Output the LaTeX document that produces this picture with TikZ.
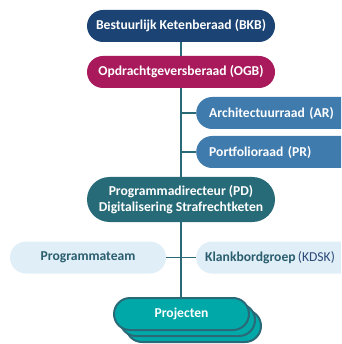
\documentclass[tikz,border=0pt]{standalone}
\usepackage{fontspec}
\setmainfont{Carlito}
\definecolor{bkb}{HTML}{1B4373}
\definecolor{ogb}{HTML}{A81A5C}
\definecolor{arpr}{HTML}{3F7BAD}
\definecolor{pd}{HTML}{286B78}
\definecolor{light}{HTML}{DFEEF7}
\definecolor{ln}{HTML}{2A6A78}
\definecolor{proj}{HTML}{00A8A8}
\definecolor{txtd}{HTML}{2A5D6E}
\definecolor{txtn}{HTML}{2B4A78}
\begin{document}
\begin{tikzpicture}[x=1pt,y=-1pt,
  pill/.style={minimum height=32pt, rounded corners=16pt, inner sep=0pt, font=\bfseries\fontsize{13.6}{16}\selectfont, text=white},
  main/.style={pill, minimum width=188pt},
  side/.style={pill, text width=148pt, inner xsep=13pt, align=left, fill=arpr},
  lite/.style={pill, fill=light, text=txtd},
  conn/.style={draw=ln, line width=1.6pt},
  projbox/.style={pill, minimum width=135pt, fill=proj, draw=ln, line width=2pt}]
\useasboundingbox (0,0) rectangle (341,344);
\clip (0,0) rectangle (341,344);
% nodes
\node[main, fill=bkb] (bkb) at (181,26) {Bestuurlijk Ketenberaad (BKB)};
\node[main, fill=ogb] (ogb) at (181,72) {Opdrachtgeversberaad (OGB)};
\node[side, anchor=west] (ar) at (196,113) {Architectuurraad (AR)};
\node[side, anchor=west] (pr) at (196,152) {Portfolioraad (PR)};
\node[main, minimum height=45pt, rounded corners=22.5pt, fill=pd, align=center, font=\bfseries\fontsize{13.6}{16}\selectfont] (pd) at (181,199.5) {Programmadirecteur (PD)\\Digitalisering Strafrechtketen};
\node[lite, minimum width=156pt] (team) at (88,257.5) {Programmateam};
\node[lite, text width=150pt, inner xsep=9pt, align=left, anchor=west] (kdsk) at (196,257.5) {Klankbordgroep\,{\mdseries\color{txtn}(KDSK)}};
% coordinates on the spine
\coordinate (s1) at (181,113);
\coordinate (s2) at (181,152);
\coordinate (pt) at (181,298);
% connectors
\draw[conn] (bkb.south) -- (ogb.north);
\draw[conn] (ogb.south) -- (pd.north);
\draw[conn] (s1) -- (ar.west);
\draw[conn] (s2) -- (pr.west);
\draw[conn] (pd.south) -- (pt);
\draw[conn] (team.east) -- (kdsk.west);
% projects stack
\node[projbox] (p3) at (193.5,326) {};
\node[projbox] (p2) at (187.5,320) {};
\node[projbox, text=white] (proj) at (181.5,314) {Projecten};
\end{tikzpicture}
\end{document}
